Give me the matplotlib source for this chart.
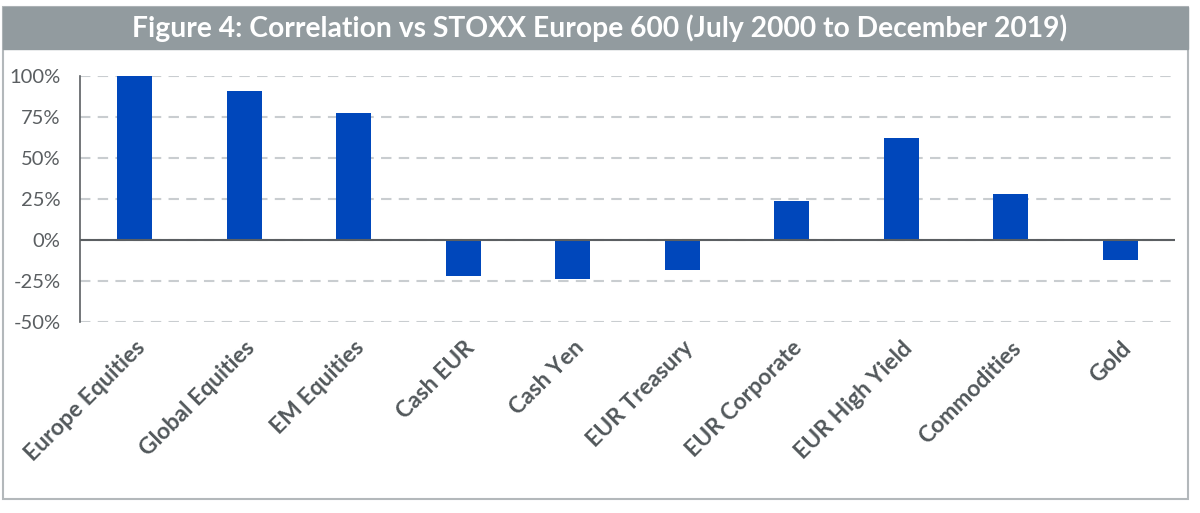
import matplotlib
matplotlib.use('Agg')
import matplotlib.pyplot as plt
from matplotlib.patches import Rectangle
from matplotlib.ticker import FuncFormatter

categories = ['Europe Equities', 'Global Equities', 'EM Equities', 'Cash EUR',
              'Cash Yen', 'EUR Treasury', 'EUR Corporate', 'EUR High Yield',
              'Commodities', 'Gold']
correlation = [100, 91, 77.5, -22, -24, -18, 24, 62.5, 28, -12]
yticks = [-50, -25, 0, 25, 50, 75, 100]

title = 'Figure 4: Correlation vs STOXX Europe 600 (July 2000 to December 2019)'

plt.rcParams['font.family'] = ['Lato', 'DejaVu Sans']

fig = plt.figure(figsize=(12, 5.13), dpi=100)

# outer frame and grey title bar
W, H = 1200, 513
fig.patches.append(Rectangle((3 / W, 1 - 499 / H), 1185 / W, 492 / H,
                             transform=fig.transFigure, facecolor='white',
                             edgecolor='#b3b8bb', lw=1.5, zorder=0))
fig.patches.append(Rectangle((3 / W, 1 - 49 / H), 1185 / W, 42 / H,
                             transform=fig.transFigure, facecolor='#929b9f',
                             edgecolor='#929b9f', lw=1, zorder=1))
fig.text(0.5, 1 - 28 / H, title, ha='center', va='center', color='white',
         fontsize=20.3, fontweight='bold')

ax = fig.add_axes([80 / W, 1 - 322 / H, 1095 / W, 246 / H])
ax.set_zorder(3)
ax.set_facecolor('none')
x = range(len(categories))
ax.bar(x, correlation, width=0.32, color='#0047bb', zorder=3)

ax.set_xlim(-0.5, len(categories) - 0.5)
ax.set_ylim(-50, 100)
ax.set_yticks(yticks)
ax.yaxis.set_major_formatter(FuncFormatter(lambda v, p: '%d%%' % v))
ax.grid(axis='y', color='#c9cdd0', linestyle=(0, (5, 3.5)), linewidth=1.5, zorder=1)
ax.axhline(0, color='#5b5f62', linewidth=1.5, zorder=4)

for s in ['top', 'right', 'bottom']:
    ax.spines[s].set_visible(False)
ax.spines['left'].set_color('#5b5f62')
ax.spines['left'].set_linewidth(1.2)

ax.tick_params(axis='y', length=0, pad=14, labelsize=14.5, labelcolor='#5a5e61')
ax.tick_params(axis='x', length=0, pad=11)
ax.set_xticks(list(x))
ax.set_xticklabels(categories, rotation=45, ha='right', rotation_mode='anchor',
                   fontsize=16.5, fontweight='bold', color='#52585b')

fig.savefig('out.png', dpi=100)
